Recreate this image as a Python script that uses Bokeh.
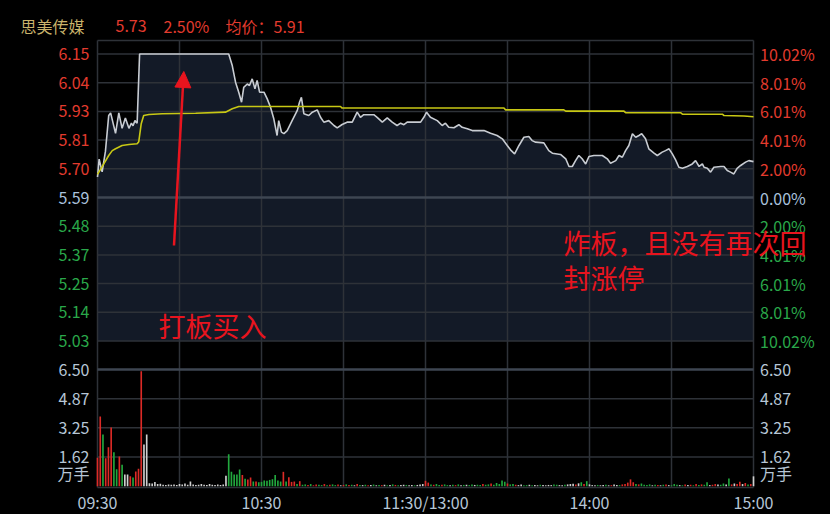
from bokeh.plotting import figure
from bokeh.models import (ColumnDataSource, LabelSet, Label, Range1d, Arrow, NormalHead)
from bokeh.embed import file_html
from bokeh.resources import INLINE
from bokeh.core.properties import value

# ---------------- data ----------------
stock_name = "思美传媒"
last_price = "5.73"
last_pct = "2.50%"
avg_text = "均价：5.91"
preclose = 5.59

price_ticks = [6.150, 6.038, 5.926, 5.814, 5.702, 5.590, 5.478, 5.366, 5.254, 5.142, 5.030]
price_labels = ["6.15", "6.04", "5.93", "5.81", "5.70", "5.59", "5.48", "5.37", "5.25", "5.14", "5.03"]
pct_labels = ["10.02%", "8.01%", "6.01%", "4.01%", "2.00%", "0.00%", "2.00%", "4.01%", "6.01%", "8.01%", "10.02%"]

vol_ticks = [6.50, 4.875, 3.25, 1.625]
vol_labels = ["6.50", "4.87", "3.25", "1.62"]
vol_unit = "万手"

time_ticks = [0, 60, 120, 180, 240]
time_labels = ["09:30", "10:30", "11:30/13:00", "14:00", "15:00"]
session_minutes = 240

# price line vertices (minute index from 09:30, price)
price_min = [0, 0.6, 1.7, 2.9, 4.1, 4.8, 6.6, 7.8, 9.0, 10.2, 11.5, 12.4, 13.0, 13.7, 14.5, 15.4,
             48.0, 49.3, 50.5, 51.7, 52.7, 53.5, 54.8, 55.6, 56.6, 57.6, 58.4, 59.3, 60.9, 62.1,
             63.3, 64.5, 65.7, 66.3, 67.3, 68.2, 69.4, 71.2, 73.1, 73.9, 74.6, 75.5, 77.3, 78.6,
             80.4, 81.6, 82.8, 84.6, 86.5, 87.7, 89.5, 91.3, 93.2, 95.0, 96.2, 97.4, 101.1, 102.3,
             104.2, 106.0, 107.8, 109.6, 110.9, 112.1, 113.3, 118.2, 119.4, 120.4, 121.8, 124.3,
             126.1, 127.3, 128.5, 130.4, 132.2, 133.4, 135.3, 137.1, 141.4, 143.8, 146.2, 148.1,
             149.9, 151.1, 152.6, 154.2, 156.0, 157.8, 159.0, 160.3, 163.3, 165.1, 166.4, 169.4,
             171.3, 172.5, 173.7, 174.9, 176.1, 177.3, 178.6, 179.8, 181.6, 184.7, 186.5, 187.7,
             189.6, 190.8, 192.0, 193.2, 194.4, 195.7, 196.9, 198.1, 199.1, 200.5, 201.7, 203.6,
             204.8, 206.6, 207.8, 209.1, 210.3, 211.5, 212.7, 214.0, 215.8, 217.6, 218.8, 220.1,
             221.3, 221.9, 223.1, 224.3, 225.5, 228.0, 229.2, 230.4, 231.6, 232.8, 234.0, 235.3,
             237.1, 238.3, 240]
price_val = [5.67, 5.74, 5.69, 5.77, 5.91, 5.92, 5.84, 5.92, 5.86, 5.90, 5.86, 5.88, 5.87, 5.89, 5.88, 6.15,
             6.15, 6.105, 6.04, 6.00, 5.962, 6.02, 6.033, 6.027, 6.053, 6.014, 6.047, 6.001, 6.001, 5.975,
             5.942, 5.897, 5.832, 5.89, 5.845, 5.839, 5.851, 5.89, 5.93, 5.962, 5.981, 5.917, 5.91, 5.923,
             5.932, 5.903, 5.884, 5.89, 5.871, 5.862, 5.875, 5.884, 5.884, 5.923, 5.903, 5.913, 5.913, 5.903,
             5.884, 5.901, 5.884, 5.871, 5.88, 5.874, 5.884, 5.884, 5.903, 5.923, 5.903, 5.89,
             5.871, 5.88, 5.864, 5.862, 5.874, 5.864, 5.858, 5.851, 5.851, 5.841, 5.832, 5.819,
             5.793, 5.776, 5.76, 5.793, 5.825, 5.828, 5.812, 5.806, 5.803, 5.773, 5.763, 5.758,
             5.741, 5.711, 5.711, 5.734, 5.754, 5.741, 5.721, 5.75, 5.754, 5.754, 5.741, 5.724,
             5.734, 5.754, 5.747, 5.773, 5.793, 5.839, 5.825, 5.832, 5.839, 5.819, 5.78, 5.763,
             5.754, 5.767, 5.773, 5.78, 5.76, 5.737, 5.708, 5.704, 5.711, 5.721, 5.734, 5.711,
             5.721, 5.708, 5.704, 5.689, 5.708, 5.711, 5.711, 5.695, 5.689, 5.682, 5.704, 5.715,
             5.728, 5.734, 5.73]

# average price line vertices
avg_min = [0, 2.3, 4.1, 5.4, 6.6, 9.0, 11.5, 14.5, 15.1, 16.0, 16.9, 18.8, 23.7, 35.9, 46.8, 49.3,
           51.7, 88.9, 89.5, 148.7, 149.3, 170.6, 171.3, 192.6, 193.2, 213.3, 214.0, 228.6, 229.2,
           236.5, 240]
avg_val = [5.68, 5.721, 5.754, 5.773, 5.78, 5.793, 5.797, 5.80, 5.808, 5.878, 5.91, 5.914, 5.917, 5.919,
           5.923, 5.936, 5.945, 5.945, 5.939, 5.939, 5.932, 5.932, 5.927, 5.927, 5.921, 5.921, 5.915,
           5.915, 5.91, 5.908, 5.905]

# per-minute volume (万手), minutes 0..240
volume = [
    1.58, 3.88, 2.88, 1.56, 2.17, 3.27, 1.89, 0.95, 1.65, 1.19, 0.65, 0.65, 0.56, 0.48, 0.82, 0.97, 6.41, 2.32, 2.88, 0.17,
    0.15, 0.24, 0.12, 0.14, 0.08, 0.07, 0.09, 0.08, 0.10, 0.06, 0.12, 0.10, 0.15, 0.08, 0.26, 0.10, 0.06, 0.08, 0.12, 0.08,
    0.07, 0.12, 0.08, 0.06, 0.10, 0.07, 0.09, 0.58, 1.78, 0.80, 0.65, 0.65, 0.93, 0.63, 0.41, 0.37, 0.48, 0.26, 0.26, 0.22,
    0.24, 0.32, 0.30, 0.35, 0.39, 0.63, 0.32, 0.26, 0.80, 0.26, 0.50, 0.24, 0.26, 0.12, 0.28, 0.08, 0.10, 0.06, 0.12, 0.05,
    0.10, 0.08, 0.06, 0.12, 0.05, 0.08, 0.10, 0.06, 0.09, 0.05, 0.07, 0.10, 0.06, 0.08, 0.05, 0.12, 0.07, 0.06, 0.08, 0.05,
    0.06, 0.09, 0.05, 0.07, 0.06, 0.08, 0.05, 0.06, 0.10, 0.07, 0.05, 0.06, 0.08, 0.07, 0.05, 0.06, 0.05, 0.07, 0.10, 0.12,
    0.30, 0.20, 0.10, 0.08, 0.12, 0.06, 0.08, 0.10, 0.06, 0.05, 0.08, 0.06, 0.10, 0.05, 0.07, 0.08, 0.06, 0.10, 0.07, 0.08,
    0.06, 0.12, 0.08, 0.10, 0.15, 0.08, 0.18, 0.12, 0.32, 0.25, 0.15, 0.10, 0.12, 0.08, 0.06, 0.10, 0.05, 0.06, 0.08, 0.05,
    0.06, 0.05, 0.08, 0.06, 0.05, 0.07, 0.06, 0.10, 0.08, 0.06, 0.05, 0.08, 0.10, 0.12, 0.14, 0.10, 0.16, 0.22, 0.12, 0.28,
    0.10, 0.06, 0.05, 0.07, 0.05, 0.06, 0.08, 0.05, 0.06, 0.10, 0.07, 0.06, 0.10, 0.12, 0.20, 0.38, 0.22, 0.12, 0.10, 0.15,
    0.08, 0.06, 0.10, 0.05, 0.08, 0.06, 0.05, 0.08, 0.10, 0.06, 0.05, 0.12, 0.08, 0.06, 0.05, 0.10, 0.06, 0.08, 0.05, 0.12,
    0.06, 0.10, 0.08, 0.22, 0.06, 0.08, 0.12, 0.10, 0.08, 0.15, 0.10, 0.43, 0.10, 0.15, 0.12, 0.25, 0.12, 0.18, 0.10, 0.12, 0.55]
# per-minute direction: r = up, g = down, w = unchanged
direction = ("rrgrrrggrgwwrgrrrwww" "wwwwwwwwwwwwwwwwwwww" "wwwwwwwwgggggrgrrgrg"
             "ggggggggrgrrrgrggrgr" "rggrgrggrwrgrgwrgwgr" "wgwgrwgwgrgwwgwwgwww"
             "rrgrggrggwgrgwgwggwg" "grggrgggggrggrwwggwg" "wwgwwwwggwwgwwwrwgrg"
             "wwwgwwgwrwwgrrrrrgrg" "gggwgrwgrwgggwgrwrgr" "grggwrrwggwgrwrrwrgrw")

note_buy = "打板买入"
note_break = ["炸板，且没有再次回", "封涨停"]

# ---------------- layout (canvas pixels -> data ranges) ----------------
W, H = 830, 514
X0_PX, X1_PX = 97, 753               # 09:30 .. 15:00
PX_PER_MIN = (X1_PX - X0_PX) / session_minutes
P_TOP_PX, P_PX_PER_UNIT = 53.5, 256.25   # price 6.15 at 53.5 px
V_ZERO_PX, V_PX_PER_UNIT = 485.7, 17.95  # volume 0 at 485.7 px
FRAME_TOP_PX, FRAME_BOT_PX = 40, 487

def px_to_min(x):
    return (x - X0_PX) / PX_PER_MIN

def px_to_price(y):
    return price_ticks[0] + (P_TOP_PX - y) / P_PX_PER_UNIT

def px_to_vol(y):
    return (V_ZERO_PX - y) / V_PX_PER_UNIT

# ---------------- style ----------------
FONT = "Noto Sans CJK SC"
BG = "#000000"
GRID = "#2e3238"
ZERO_LINE = "#3e4652"
RED = "#e33b2e"
GREEN = "#2aa84a"
NEUTRAL = "#a9c1dc"
VOLTXT = "#b6c6d6"
NAME_C = "#c9b36b"
PRICE_LINE = "#c8ccd2"
AVG_LINE = "#c8c814"
FILL = "#131a27"
NOTE_RED = "#e8141e"
BAR_COL = {"r": "#dc2a26", "g": "#22a83e", "w": "#d0d0d0"}

p = figure(width=W, height=H, min_border=0,
           x_range=Range1d(px_to_min(0), px_to_min(W)),
           y_range=Range1d(px_to_price(H), px_to_price(0)),
           x_axis_location=None, y_axis_location=None,
           toolbar_location=None, output_backend="svg",
           background_fill_color=BG, border_fill_color=BG, outline_line_color=None)
p.extra_y_ranges = {"vol": Range1d(px_to_vol(H), px_to_vol(0))}
p.grid.visible = False

p_top = px_to_price(FRAME_TOP_PX)
p_bot = px_to_price(FRAME_BOT_PX)

# price area
p.varea(x=price_min, y1=price_ticks[-1], y2=price_val, fill_color=FILL)

# grid lines
vx = list(range(0, session_minutes + 1, 30))
p.segment(x0=vx, x1=vx, y0=[p_bot] * len(vx), y1=[p_top] * len(vx), line_color=GRID, line_width=1.5)
hy = [p_top] + [t for t in price_ticks if t != preclose]
p.segment(x0=[0] * len(hy), x1=[session_minutes] * len(hy), y0=hy, y1=hy, line_color=GRID, line_width=1.5)
p.segment(x0=[0], x1=[session_minutes], y0=[preclose], y1=[preclose], line_color=ZERO_LINE, line_width=2.5)
vgy = vol_ticks[1:] + [px_to_vol(FRAME_BOT_PX)]
p.segment(x0=[0] * len(vgy), x1=[session_minutes] * len(vgy), y0=vgy, y1=vgy,
          line_color=GRID, line_width=1.5, y_range_name="vol")
p.segment(x0=[0], x1=[session_minutes], y0=[vol_ticks[0]], y1=[vol_ticks[0]],
          line_color=ZERO_LINE, line_width=2.5, y_range_name="vol")

# price & average lines
p.line(price_min, price_val, line_color=PRICE_LINE, line_width=1.6)
p.line(avg_min, avg_val, line_color=AVG_LINE, line_width=1.6)

# volume bars
vsrc = ColumnDataSource(dict(m=list(range(len(volume))), v=volume,
                             c=[BAR_COL[d] for d in direction]))
p.vbar(x="m", top="v", bottom=0, width=0.6, fill_color="c", line_color=None,
       y_range_name="vol", source=vsrc)

# axis labels
LEFT_X = px_to_min(89)
RIGHT_X = px_to_min(759.5)
tick_colors = [RED if t > preclose + 1e-9 else (NEUTRAL if abs(t - preclose) < 1e-9 else GREEN)
               for t in price_ticks]
psrc = ColumnDataSource(dict(y=price_ticks, pl=price_labels, pc=pct_labels, col=tick_colors,
                             xl=[LEFT_X] * len(price_ticks), xr=[RIGHT_X] * len(price_ticks)))
common = dict(text_font=value(FONT), text_font_size="16px", text_baseline="middle")
p.add_layout(LabelSet(x="xl", y="y", text="pl", text_color="col", text_align="right",
                      source=psrc, **common))
p.add_layout(LabelSet(x="xr", y="y", text="pc", text_color="col", text_align="left",
                      source=psrc, **common))

vl = vol_labels + [vol_unit]
vy = vol_ticks + [px_to_vol(472)]
vsrc2 = ColumnDataSource(dict(y=vy, t=vl, xl=[LEFT_X] * len(vl), xr=[RIGHT_X] * len(vl)))
p.add_layout(LabelSet(x="xl", y="y", text="t", text_color=VOLTXT, text_align="right",
                      y_range_name="vol", source=vsrc2, **common))
p.add_layout(LabelSet(x="xr", y="y", text="t", text_color=VOLTXT, text_align="left",
                      y_range_name="vol", source=vsrc2, **common))

tsrc = ColumnDataSource(dict(x=time_ticks, t=time_labels, y=[px_to_vol(501)] * len(time_ticks)))
p.add_layout(LabelSet(x="x", y="y", text="t", text_color=VOLTXT, text_align="center",
                      y_range_name="vol", source=tsrc, **common))

# header
HEAD_Y = px_to_price(25)
for xpx, txt, col in [(20, stock_name, NAME_C), (115, last_price, RED),
                      (163, last_pct, RED), (225, avg_text, RED)]:
    p.add_layout(Label(x=px_to_min(xpx), y=HEAD_Y, text=txt, text_color=col, text_align="left",
                       text_font=FONT, text_font_size="16px", text_baseline="middle"))

# annotations
p.add_layout(Arrow(end=NormalHead(size=16, fill_color=NOTE_RED, line_color=NOTE_RED),
                   x_start=px_to_min(173.5), y_start=px_to_price(245),
                   x_end=px_to_min(183.3), y_end=px_to_price(71),
                   line_color=NOTE_RED, line_width=2.5))
note = dict(text_font=FONT, text_font_size="27px", text_baseline="middle",
            text_color=NOTE_RED, text_align="left")
p.add_layout(Label(x=px_to_min(158), y=px_to_price(325), text=note_buy, **note))
p.add_layout(Label(x=px_to_min(563), y=px_to_price(242), text=note_break[0], **note))
p.add_layout(Label(x=px_to_min(563), y=px_to_price(277), text=note_break[1], **note))

html = file_html(p, INLINE, title="分时图")
html = html.replace("<head>", "<head><style>html,body{background:#000000;}</style>", 1)
open("out.html", "w").write(html)
